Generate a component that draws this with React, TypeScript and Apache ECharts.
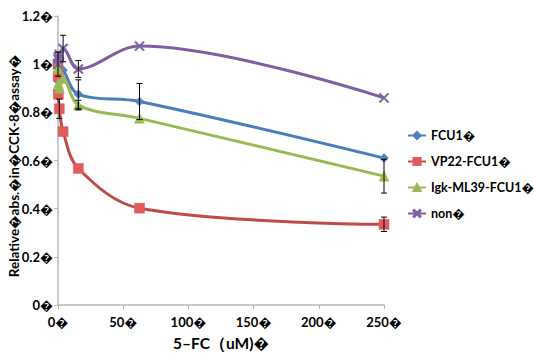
import React, { useEffect, useRef } from "react";
import * as echarts from "echarts";

const Q = "\uFFFD";
const concentrations = [0, 0.06, 0.24, 0.98, 3.9, 15.6, 62.5, 250];
const seriesNames = ["FCU1" + Q, "VP22-FCU1" + Q, "Igk-ML39-FCU1" + Q, "non" + Q];
const fcu1 = [1.0, 0.93, 0.96, 0.98, 0.975, 0.875, 0.845, 0.61];
const vp22 = [1.0, 0.95, 0.875, 0.815, 0.72, 0.567, 0.402, 0.335];
const igk = [1.0, 0.98, 0.92, 0.9, 0.94, 0.83, 0.775, 0.535];
const non = [1.0, 1.02, 1.03, 1.04, 1.065, 0.98, 1.075, 0.86];
const fcu1Err = [0.01, 0.01, 0.01, 0.01, 0.01, 0.06, 0.075, 0.01];
const vp22Err = [0.01, 0.01, 0.01, 0.04, 0.01, 0.01, 0.01, 0.03];
const igkErr = [0.01, 0.01, 0.01, 0.01, 0.01, 0.02, 0.01, 0.07];
const nonErr = [0.05, 0.01, 0.01, 0.01, 0.055, 0.035, 0.01, 0.01];
const xTicks = [0, 50, 100, 150, 200, 250];

const colors = ["#4a7ebb", "#be4b48", "#98b954", "#7d60a0"];
const markerFill = ["#4f81bd", "#e05c5a", "#9bbb59", "#8064a2"];
const symbols = [
  "diamond",
  "rect",
  "triangle",
  "path://M0,1.2L1.2,0L5,3.8L8.8,0L10,1.2L6.2,5L10,8.8L8.8,10L5,6.2L1.2,10L0,8.8L3.8,5Z",
];
const symbolSizes = [9, 10, 10, 10];

export default function App() {
  const ref = useRef<HTMLDivElement>(null);
  useEffect(() => {
    const chart = echarts.init(ref.current!, undefined, { renderer: "svg" });
    const values = [fcu1, vp22, igk, non];
    const errs = [fcu1Err, vp22Err, igkErr, nonErr];
    const errData: number[][] = [];
    values.forEach((vals, s) => {
      vals.forEach((v, i) => {
        if (errs[s][i] > 0.015) errData.push([concentrations[i], v - errs[s][i], v + errs[s][i]]);
      });
    });
    const font = "Lato, 'Open Sans', sans-serif";
    const lineSeries = values.map((vals, s) => ({
      name: seriesNames[s],
      type: "line",
      data: vals.map((v, i) => [concentrations[i], v]),
      smooth: 0.35,
      symbol: symbols[s],
      symbolSize: symbolSizes[s],
      lineStyle: { color: colors[s], width: 3 },
      itemStyle: { color: markerFill[s], borderColor: markerFill[s], borderWidth: 0.5 },
      z: 3,
    }));
    chart.setOption({
      animation: false,
      textStyle: { fontFamily: font },
      grid: { left: 58, right: 150, top: 16, bottom: 51, containLabel: false },
      legend: {
        orient: "vertical",
        left: 402,
        top: 124,
        itemWidth: 18,
        itemHeight: 9,
        itemGap: 13,
        textStyle: { fontFamily: font, fontWeight: "bold", fontSize: 12.5, color: "#000" },
        data: seriesNames,
      },
      xAxis: {
        type: "value",
        min: 0,
        max: 250,
        interval: 50,
        name: "5\u2013FC\uFF08uM)" + Q,
        nameLocation: "middle",
        nameGap: 30,
        nameTextStyle: { fontFamily: font, fontWeight: "bold", fontSize: 15.5, color: "#000" },
        axisLine: { lineStyle: { color: "#b8b8b8", width: 1.5 } },
        axisTick: { show: true, length: 4, lineStyle: { color: "#b8b8b8" } },
        splitLine: { show: false },
        axisLabel: {
          formatter: (v: number) => (xTicks.includes(v) ? String(v) + Q : ""),
          fontWeight: "bold",
          fontSize: 13,
          color: "#000",
          margin: 10,
        },
      },
      yAxis: {
        type: "value",
        min: 0,
        max: 1.2,
        interval: 0.2,
        axisLine: { show: true, lineStyle: { color: "#b8b8b8", width: 1.5 } },
        axisTick: { show: true, length: 4, lineStyle: { color: "#b8b8b8" } },
        splitLine: { show: false },
        axisLabel: {
          formatter: (v: number) => String(Math.round(v * 10) / 10) + Q,
          fontWeight: "bold",
          fontSize: 13,
          color: "#000",
          margin: 5,
        },
      },
      graphic: [
        {
          type: "text",
          x: 14,
          y: 166,
          rotation: Math.PI / 2,
          style: {
            text: "Relative" + Q + "abs." + Q + "in" + Q + "CCK-8" + Q + "assay" + Q,
            fontFamily: font,
            fontWeight: "bold",
            fontSize: 13.5,
            fill: "#000",
            align: "center",
            verticalAlign: "middle",
          },
        },
      ],
      series: [
        ...lineSeries,
        {
          type: "custom",
          name: "err",
          data: errData,
          z: 4,
          renderItem: (params: any, api: any) => {
            const x = api.value(0);
            const lo = api.coord([x, api.value(1)]);
            const hi = api.coord([x, api.value(2)]);
            const cap = 3;
            const st = { stroke: "#000", lineWidth: 1 };
            return {
              type: "group",
              children: [
                { type: "line", shape: { x1: lo[0], y1: lo[1], x2: hi[0], y2: hi[1] }, style: st },
                { type: "line", shape: { x1: lo[0] - cap, y1: lo[1], x2: lo[0] + cap, y2: lo[1] }, style: st },
                { type: "line", shape: { x1: hi[0] - cap, y1: hi[1], x2: hi[0] + cap, y2: hi[1] }, style: st },
              ],
            };
          },
        },
      ],
    });
    return () => chart.dispose();
  }, []);
  return <div ref={ref} style={{ width: 534, height: 356, position: "absolute", left: 0, top: 0, background: "#fff" }} />;
}
